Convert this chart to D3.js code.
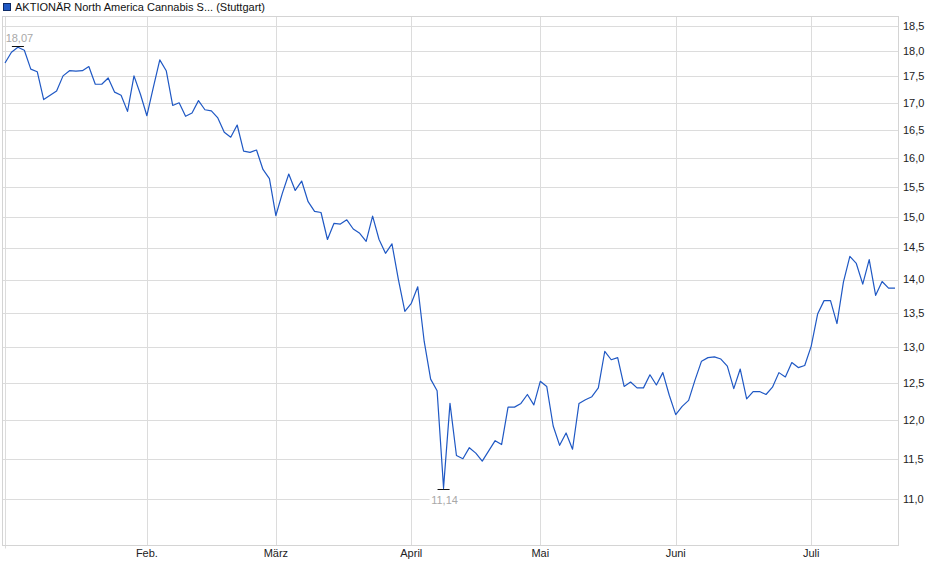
<!DOCTYPE html>
<html>
<head>
<meta charset="utf-8">
<script src="https://cdn.jsdelivr.net/npm/d3@7"></script>
<style>
  body { margin: 0; background: #fff; }
  svg { display: block; font-family: "Liberation Sans", Arial, sans-serif; }
</style>
</head>
<body>
<div class="chart"></div>
<script>
// Kurswerte, ein Wert pro Handelstag (Anfang Januar bis Mitte Juli)
const values = [
  17.76, 17.97, 18.07, 18.01, 17.64, 17.59, 17.06, 17.14, 17.22, 17.51,
  17.61, 17.60, 17.61, 17.69, 17.35, 17.35, 17.47, 17.20, 17.14, 16.84,
  17.51, 17.16, 16.76, 17.29, 17.82, 17.61, 16.95, 17.00, 16.75, 16.81,
  17.04, 16.87, 16.85, 16.72, 16.46, 16.37, 16.59, 16.12, 16.10, 16.14,
  15.80, 15.64, 15.02, 15.39, 15.72, 15.44, 15.60, 15.25, 15.09, 15.07,
  14.63, 14.89, 14.88, 14.95, 14.80, 14.73, 14.60, 15.01, 14.63, 14.41,
  14.56, 14.00, 13.52, 13.64, 13.89, 13.08, 12.55, 12.39, 11.14, 12.22,
  11.54, 11.50, 11.64, 11.57, 11.47, 11.60, 11.73, 11.68, 12.17, 12.17,
  12.22, 12.34, 12.20, 12.52, 12.45, 11.92, 11.67, 11.83, 11.62, 12.22,
  12.27, 12.31, 12.43, 12.94, 12.82, 12.85, 12.45, 12.51, 12.43, 12.43,
  12.61, 12.47, 12.64, 12.33, 12.07, 12.18, 12.26, 12.54, 12.80, 12.85,
  12.86, 12.83, 12.73, 12.42, 12.69, 12.28, 12.38, 12.38, 12.34, 12.44,
  12.64, 12.58, 12.78, 12.71, 12.74, 13.01, 13.48, 13.68, 13.68, 13.34,
  13.96, 14.36, 14.25, 13.93, 14.31, 13.76, 13.97, 13.87, 13.87
];

// Monatsanfaenge als Index in values
const monthLabels = ["", "Feb.", "März", "April", "Mai", "Juni", "Juli"];
const monthStart = [0, 22, 42, 63, 83, 104, 125];

const yTicks = [11.0, 11.5, 12.0, 12.5, 13.0, 13.5, 14.0, 14.5, 15.0, 15.5, 16.0, 16.5, 17.0, 17.5, 18.0, 18.5];

const seriesName = "AKTIONÄR North America Cannabis S... (Stuttgart)";

const de = d3.formatLocale({ decimal: ",", thousands: ".", grouping: [3], currency: ["", " €"] });
const fmt = de.format(".1f");
const fmt2 = de.format(".2f");

const width = 940, height = 579;
const plot = { left: 2.5, right: 898.5, top: 16.5, bottom: 545.5 };

const svg = d3.select(".chart")
  .append("svg")
  .attr("width", width)
  .attr("height", height);

const xScale = d3.scaleLinear()
  .domain([0, values.length - 1])
  .range([5, 895]);

// logarithmische Achse
const yScale = d3.scaleLog()
  .domain([10.46, 18.70])
  .range([545, 16]);

const grid = svg.append("g");

// horizontale Gitterlinien
grid.selectAll("line.h")
  .data(yTicks)
  .join("line")
  .attr("class", "h")
  .attr("x1", plot.left)
  .attr("x2", plot.right)
  .attr("y1", d => Math.round(yScale(d)) + 0.5)
  .attr("y2", d => Math.round(yScale(d)) + 0.5)
  .attr("stroke", "#dcdcdc");

// vertikale Gitterlinien an den Monatsanfaengen
grid.selectAll("line.v")
  .data(monthStart)
  .join("line")
  .attr("class", "v")
  .attr("x1", d => Math.round(xScale(d)) + 0.5)
  .attr("x2", d => Math.round(xScale(d)) + 0.5)
  .attr("y1", plot.top)
  .attr("y2", (d, i) => i == 0 ? plot.bottom + 3 : plot.bottom)
  .attr("stroke", "#dcdcdc");

// Rahmen
svg.append("rect")
  .attr("x", plot.left)
  .attr("y", plot.top)
  .attr("width", plot.right - plot.left)
  .attr("height", plot.bottom - plot.top)
  .attr("fill", "none")
  .attr("stroke", "#d4d4d4");

// y-Achse rechts
svg.append("g")
  .selectAll("text")
  .data(yTicks)
  .join("text")
  .text(d => fmt(d))
  .attr("x", 903)
  .attr("y", d => yScale(d))
  .attr("dy", "0.35em")
  .style("font-size", "11px")
  .attr("fill", "#222");

// x-Achse
svg.append("g")
  .selectAll("text")
  .data(monthStart)
  .join("text")
  .text((d, i) => monthLabels[i])
  .attr("x", d => xScale(d))
  .attr("y", 553)
  .attr("dy", "0.35em")
  .attr("text-anchor", "middle")
  .style("font-size", "11px")
  .attr("fill", "#222");

// Kurslinie
const line = d3.line()
  .x((d, i) => xScale(i))
  .y(d => yScale(d));

svg.append("path")
  .datum(values)
  .attr("d", line)
  .attr("fill", "none")
  .attr("stroke", "#1f58c4")
  .attr("stroke-width", 1.2)
  .attr("stroke-linejoin", "round");

// Hoch- und Tiefpunkt markieren
const iMax = d3.maxIndex(values);
const iMin = d3.minIndex(values);

const marks = svg.append("g");

marks.append("line")
  .attr("x1", xScale(iMax) - 6)
  .attr("x2", xScale(iMax) + 6)
  .attr("y1", Math.round(yScale(values[iMax])) - 0.5)
  .attr("y2", Math.round(yScale(values[iMax])) - 0.5)
  .attr("stroke", "#111");

marks.append("text")
  .text(fmt2(values[iMax]))
  .attr("x", xScale(iMax) + 1.5)
  .attr("y", yScale(values[iMax]) - 9)
  .attr("dy", "0.35em")
  .attr("text-anchor", "middle")
  .style("font-size", "11px")
  .attr("fill", "#a8a8a8");

marks.append("line")
  .attr("x1", xScale(iMin) - 6)
  .attr("x2", xScale(iMin) + 6)
  .attr("y1", Math.round(yScale(values[iMin])) + 1.5)
  .attr("y2", Math.round(yScale(values[iMin])) + 1.5)
  .attr("stroke", "#111");

marks.append("line")
  .attr("x1", xScale(iMin))
  .attr("x2", xScale(iMin))
  .attr("y1", yScale(values[iMin]))
  .attr("y2", yScale(values[iMin]) + 1.5)
  .attr("stroke", "#1f58c4");

const minLabel = marks.append("g")
  .attr("transform", `translate(${xScale(iMin) + 1}, ${yScale(values[iMin]) + 12})`);

minLabel.append("rect")
  .attr("x", -15)
  .attr("y", -6)
  .attr("width", 30)
  .attr("height", 12)
  .attr("fill", "#fff");

minLabel.append("text")
  .text(fmt2(values[iMin]))
  .attr("dy", "0.35em")
  .attr("text-anchor", "middle")
  .style("font-size", "11px")
  .attr("fill", "#a8a8a8");

// Legende oben links
svg.append("rect")
  .attr("x", 3.5)
  .attr("y", 3.5)
  .attr("width", 7)
  .attr("height", 7)
  .attr("fill", "#1f58c4")
  .attr("stroke", "#0d2a66");

svg.append("text")
  .text(seriesName)
  .attr("x", 15)
  .attr("y", 7)
  .attr("dy", "0.35em")
  .style("font-size", "11px")
  .attr("fill", "#111");
</script>
</body>
</html>
